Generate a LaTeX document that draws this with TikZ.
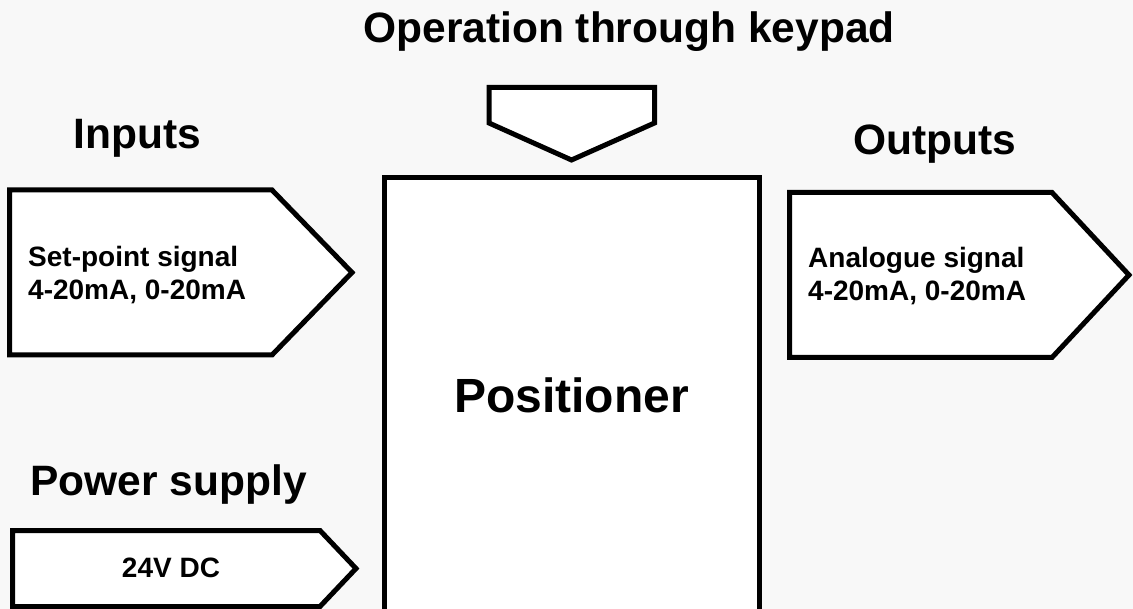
\documentclass[tikz,border=0pt]{standalone}
\usepackage{fontspec}
\setmainfont{Liberation Sans}
\definecolor{pagebg}{RGB}{248,248,248}

\begin{document}
\begin{tikzpicture}[
    x=1pt, y=-1pt,
    outline/.style={draw=black, fill=white, line width=5pt},
    heading/.style={font=\fontsize{42.5}{51}\selectfont\bfseries, anchor=base, inner sep=0pt},
    maintext/.style={font=\fontsize{48}{58}\selectfont\bfseries, anchor=base, inner sep=0pt},
    sigtext/.style={font=\fontsize{28}{33}\selectfont\bfseries, align=left, anchor=base west, inner sep=0pt}
]
    % Page
    \fill[pagebg, use as bounding box] (0,0) rectangle (1133,609);
    \clip (0,0) rectangle (1133,609);

    % Positioner body and keypad
    \draw[outline] (384.5,177.5) rectangle (759.5,650);
    \draw[outline] (489,87.5) -- (654.5,87.5) -- (654.5,123) -- (571.5,160) -- (489,123) -- cycle;

    % Signal arrows
    \draw[outline] (9.5,190) -- (272,190) -- (352,272.5) -- (272,355) -- (9.5,355) -- cycle;
    \draw[outline] (789.5,192.5) -- (1052,192.5) -- (1129,275) -- (1052,357.5) -- (789.5,357.5) -- cycle;
    \draw[outline] (12.5,530.5) -- (320,530.5) -- (356,568.5) -- (320,606.5) -- (12.5,606.5) -- cycle;

    % Headings
    \node[heading] (keypad) at (629,43) {Operation through keypad};
    \node[heading] (inputs) at (137.5,149) {Inputs};
    \node[heading] (outputs) at (935,155) {Outputs};
    \node[heading] (power) at (168.5,495) {Power supply};

    % Texts
    \node[maintext] (positioner) at (571.5,413) {Positioner};
    \node[sigtext] (setpoint) at (28,300) {Set-point signal\\4-20mA, 0-20mA};
    \node[sigtext] (analogue) at (808,301) {Analogue signal\\4-20mA, 0-20mA};
    \node[sigtext, anchor=base] (supply) at (171,577) {24V DC};

\end{tikzpicture}
\end{document}
